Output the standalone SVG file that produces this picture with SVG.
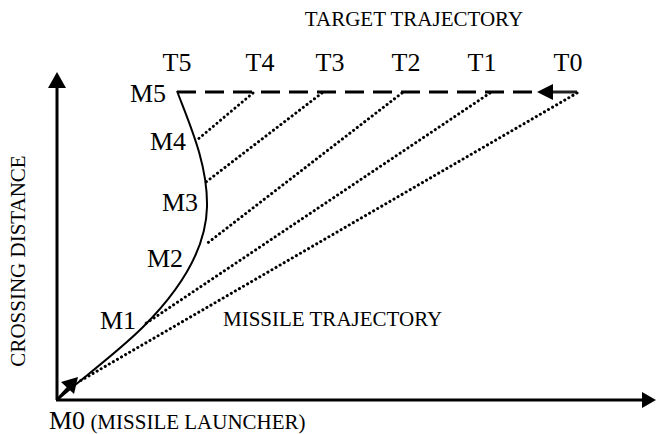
<svg xmlns="http://www.w3.org/2000/svg" width="656" height="434" viewBox="0 0 656 434">
<style>
text{font-family:"Liberation Serif","Times New Roman",serif;fill:#000}
.big{font-size:26px}
.small{font-size:21px}
.axis{stroke:#000;stroke-width:3;fill:none}
.dash{stroke:#000;stroke-width:3;stroke-dasharray:19 9;fill:none}
.dot{stroke:#000;stroke-width:3;stroke-linecap:round;stroke-dasharray:0.1 4.6;fill:none}
.curve{stroke:#000;stroke-width:2;fill:none}
</style>
<rect width="656" height="434" fill="#fff"/>
<g id="axes">
<line class="axis" x1="57" y1="400" x2="57" y2="86"/>
<polygon points="57,72 48,88 66,88" fill="#000"/>
<line class="axis" x1="56" y1="400" x2="644" y2="400"/>
<polygon points="656,400 642,392 642,408" fill="#000"/>
<text class="small" transform="translate(25,261) rotate(-90)" text-anchor="middle">CROSSING DISTANCE</text>
</g>
<g id="target-trajectory">
<line class="dash" x1="177" y1="92" x2="540" y2="92"/>
<line x1="551" y1="92" x2="577" y2="92" stroke="#222" stroke-width="3"/>
<polygon points="537,92 553,84 553,100" fill="#000"/>
<text class="small" x="414" y="26" text-anchor="middle">TARGET TRAJECTORY</text>
</g>
<g id="missile-trajectory">
<path class="curve" d="M177,91 C190,125 208,165 207,207 C206,250 180,290 143,327 C118,352 85,376 57,400"/>
<line x1="57" y1="400" x2="68" y2="388" stroke="#000" stroke-width="3"/>
<polygon points="78,377 74,394 61,382" fill="#000"/>
<text class="small" x="223" y="326">MISSILE TRAJECTORY</text>
</g>
<g id="connectors">
<line class="dot" x1="577" y1="93" x2="80" y2="381"/>
<line class="dot" x1="490" y1="93" x2="145" y2="324"/>
<line class="dot" x1="402" y1="93" x2="205" y2="245"/>
<line class="dot" x1="322" y1="93" x2="206" y2="182"/>
<line class="dot" x1="253" y1="93" x2="197" y2="140"/>
</g>
<g id="T5"><text class="big" x="177" y="71" text-anchor="middle">T5</text></g>
<g id="T4"><text class="big" x="260" y="71" text-anchor="middle">T4</text></g>
<g id="T3"><text class="big" x="330" y="71" text-anchor="middle">T3</text></g>
<g id="T2"><text class="big" x="406" y="71" text-anchor="middle">T2</text></g>
<g id="T1"><text class="big" x="482" y="71" text-anchor="middle">T1</text></g>
<g id="T0"><text class="big" x="568" y="71" text-anchor="middle">T0</text></g>
<g id="M5"><text class="big" x="130" y="102">M5</text></g>
<g id="M4"><text class="big" x="150" y="150">M4</text></g>
<g id="M3"><text class="big" x="162" y="211">M3</text></g>
<g id="M2"><text class="big" x="147" y="267">M2</text></g>
<g id="M1"><text class="big" x="100" y="329">M1</text></g>
<g id="M0"><text x="49" y="429"><tspan class="big">M0</tspan><tspan class="small"> (MISSILE LAUNCHER)</tspan></text></g>
</svg>
